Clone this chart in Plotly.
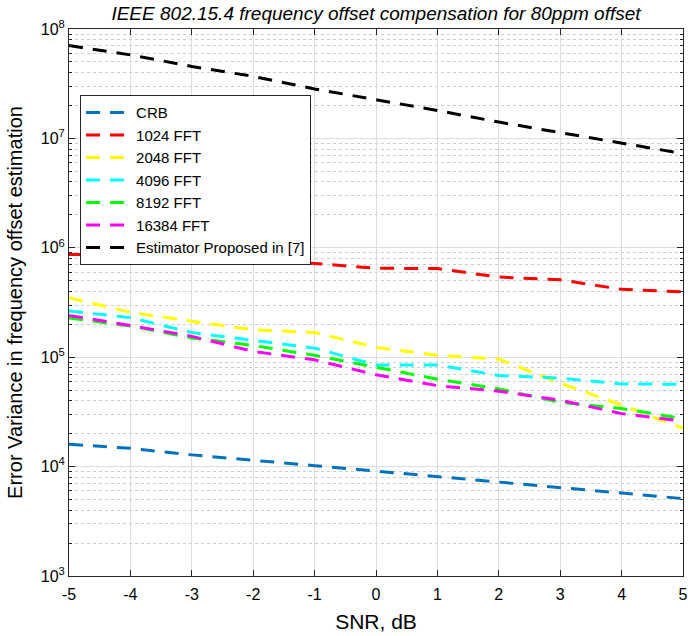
import plotly.graph_objects as go

snr = [-5, -4, -3, -2, -1, 0, 1, 2, 3, 4, 5]

crb = [1.6e4, 1.47e4, 1.28e4, 1.15e4, 1.02e4, 9.1e3, 8.1e3, 7.2e3, 6.46e3, 5.7e3, 5.1e3]
fft1024 = [8.7e5, 8.6e5, 7.3e5, 7.7e5, 7.2e5, 6.5e5, 6.46e5, 5.4e5, 5.1e5, 4.17e5, 3.95e5]
fft2048 = [3.49e5, 2.57e5, 2.13e5, 1.78e5, 1.68e5, 1.23e5, 1.04e5, 9.6e4, 5.8e4, 3.65e4, 2.24e4]
fft4096 = [2.64e5, 2.30e5, 1.68e5, 1.43e5, 1.21e5, 8.5e4, 8.5e4, 6.8e4, 6.45e4, 5.7e4, 5.65e4]
fft8192 = [2.28e5, 1.93e5, 1.50e5, 1.28e5, 1.04e5, 8.1e4, 6.3e4, 5.13e4, 3.88e4, 3.39e4, 2.75e4]
fft16384 = [2.41e5, 1.95e5, 1.55e5, 1.13e5, 9.46e4, 6.9e4, 5.5e4, 4.89e4, 4.05e4, 3.05e4, 2.6e4]
proposed7 = [7.06e7, 5.8e7, 4.55e7, 3.69e7, 2.83e7, 2.27e7, 1.8e7, 1.41e7, 1.13e7, 9.0e6, 7.26e6]

series = [
    ("CRB", crb, "#0072BD"),
    ("1024 FFT", fft1024, "#FF0000"),
    ("2048 FFT", fft2048, "#FFFF00"),
    ("4096 FFT", fft4096, "#00FFFF"),
    ("8192 FFT", fft8192, "#00FF00"),
    ("16384 FFT", fft16384, "#FF00FF"),
    ("Estimator Proposed in [7]", proposed7, "#000000"),
]

ytickvals = [1e3, 1e4, 1e5, 1e6, 1e7, 1e8]
yticktext = ["10<sup>3</sup>", "10<sup>4</sup>", "10<sup>5</sup>", "10<sup>6</sup>", "10<sup>7</sup>", "10<sup>8</sup>"]

fig = go.Figure()
for name, vals, col in series:
    fig.add_trace(go.Scatter(x=snr, y=vals, mode="lines", name=name,
                             line=dict(color=col, width=3, dash="14px,10px")))

axis_col = "#262626"
fig.update_layout(
    width=688, height=636,
    margin=dict(l=69, r=5, t=29, b=60, autoexpand=False),
    paper_bgcolor="white", plot_bgcolor="white",
    font=dict(family="Liberation Sans, Arial, sans-serif", size=16, color="#000000"),
    title=dict(text="<i>IEEE 802.15.4 frequency offset compensation for 80ppm offset</i>",
               x=0.5, xref="paper", xanchor="center", y=1 - 13 / 636, yref="container",
               yanchor="middle", font=dict(size=19, color="#000000")),
    legend=dict(x=0.018, y=0.879, xanchor="left", yanchor="top",
                bgcolor="white", bordercolor="#262626", borderwidth=1,
                font=dict(size=15, color="#000000"), tracegroupgap=0, itemwidth=45),
    showlegend=True,
)
fig.update_xaxes(
    range=[-5, 5], tickvals=snr, ticktext=[str(v) for v in snr], automargin=False,
    showline=True, linecolor=axis_col, linewidth=1, mirror="ticks",
    ticks="inside", ticklen=6, tickcolor=axis_col, ticklabeloverflow="allow",
    ticklabelstandoff=4,
    showgrid=True, gridcolor="#DDDDDD", gridwidth=1, zeroline=False,
    title=dict(text="SNR, dB", font=dict(size=21), standoff=12),
    tickfont=dict(size=16),
)
fig.update_yaxes(
    type="log", range=[3, 8], tickvals=ytickvals, ticktext=yticktext, automargin=False,
    showline=True, linecolor=axis_col, linewidth=1, mirror="ticks",
    ticks="inside", ticklen=6, tickcolor=axis_col,
    showgrid=True, gridcolor="#DDDDDD", gridwidth=1, zeroline=False,
    minor=dict(dtick="D1", ticks="inside", ticklen=3, tickcolor=axis_col,
               showgrid=True, gridcolor="#CCCCCC", griddash="dot", gridwidth=1),
    title=dict(text="Error Variance in frequency offset estimation", font=dict(size=20), standoff=12),
    tickfont=dict(size=16),
)

fig.write_html("out.html")
